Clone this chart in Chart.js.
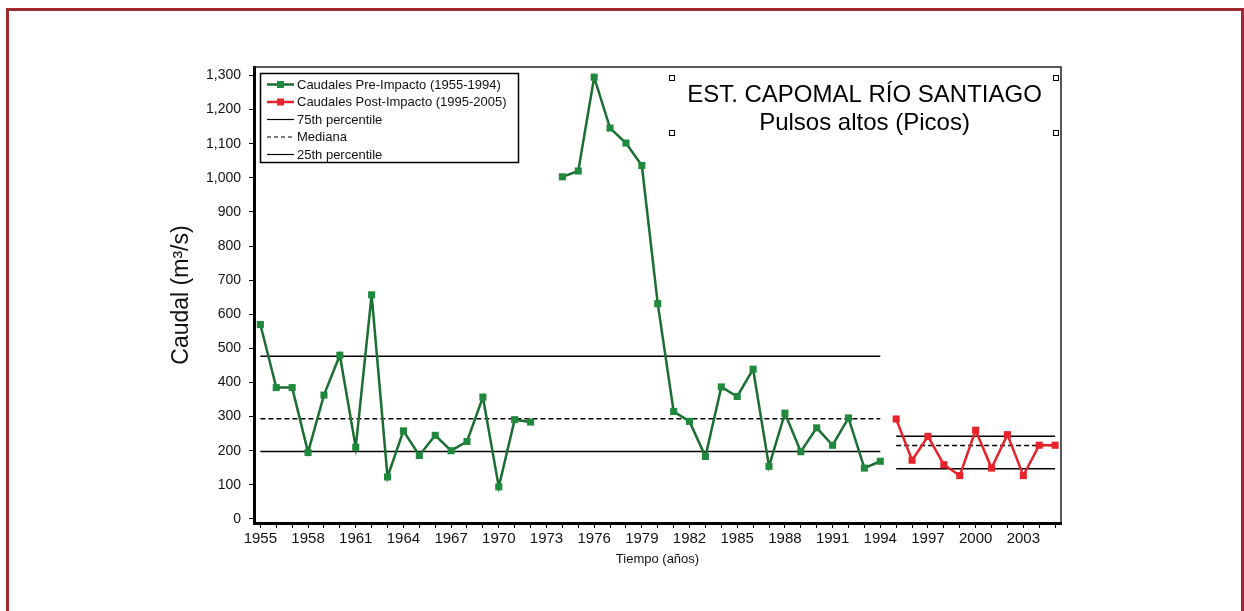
<!DOCTYPE html>
<html>
<head>
<meta charset="utf-8">
<script src="https://cdn.jsdelivr.net/npm/chart.js@4.4.1/dist/chart.umd.min.js"></script>
<style>
  html, body { margin: 0; padding: 0; background: #fff; }
  #wrap { width: 1244px; height: 611px; position: relative; }
</style>
</head>
<body>
<div id="wrap"><canvas id="c" width="1244" height="611"></canvas></div>
<script>
// Peak flows, Capomal station, Santiago river (m3/s)
const preYears = [1955, 1956, 1957, 1958, 1959, 1960, 1961, 1962, 1963, 1964,
                  1965, 1966, 1967, 1968, 1969, 1970, 1971, 1972, 1973, 1974,
                  1975, 1976, 1977, 1978, 1979, 1980, 1981, 1982, 1983, 1984,
                  1985, 1986, 1987, 1988, 1989, 1990, 1991, 1992, 1993, 1994];
const preCaudal = [570, 385, 385, 195, 363, 480, 210, 657, 123, 258,
                   186, 245, 200, 227, 357, 94, 291, 284, null, 1003,
                   1020, 1295, 1146, 1102, 1036, 631, 315, 286, 183, 387,
                   359, 439, 154, 310, 197, 267, 216, 296, 149, 169];

const postYears = [1995, 1996, 1997, 1998, 1999, 2000, 2001, 2002, 2003, 2004, 2005];
const postCaudal = [293, 172, 242, 159, 127, 260, 149, 247, 127, 216, 216];

// Percentiles: [25th, median, 75th]
const prePercentiles = [198, 294, 477];
const postPercentiles = [147, 215, 242];

const xLabelYears = [1955, 1958, 1961, 1964, 1967, 1970, 1973, 1976, 1979, 1982,
                     1985, 1988, 1991, 1994, 1997, 2000, 2003];
const yTickValues = [0, 100, 200, 300, 400, 500, 600, 700, 800, 900, 1000, 1100, 1200, 1300];

const FONT = '"Liberation Sans", Arial, Helvetica, sans-serif';
const GREEN_LINE = '#1b6e31';
const GREEN_PT = '#1f8a3d';
const RED_LINE = '#e6222b';
const RED_PT = '#e8232c';

const toPoints = (xs, ys) => xs.map((x, i) => ({ x: x, y: ys[i] }));
const hLine = (x0, x1, y) => [{ x: x0, y: y }, { x: x1, y: y }];

const percentileStyles = [
  { label: '25th percentile', dash: [] },
  { label: 'Mediana', dash: [5, 3] },
  { label: '75th percentile', dash: [] }
];

const datasets = [
  {
    label: 'Caudales Pre-Impacto (1955-1994)',
    data: toPoints(preYears, preCaudal),
    borderColor: GREEN_LINE, backgroundColor: GREEN_PT,
    borderWidth: 2.5, pointStyle: 'rect', pointRadius: 5,
    pointBorderColor: GREEN_PT, pointBackgroundColor: GREEN_PT, pointBorderWidth: 0,
    spanGaps: false, tension: 0
  },
  {
    label: 'Caudales Post-Impacto (1995-2005)',
    data: toPoints(postYears, postCaudal),
    borderColor: RED_LINE, backgroundColor: RED_PT,
    borderWidth: 2.5, pointStyle: 'rect', pointRadius: 5,
    pointBorderColor: RED_PT, pointBackgroundColor: RED_PT, pointBorderWidth: 0,
    tension: 0
  }
];
percentileStyles.forEach((s, i) => {
  datasets.push({
    label: s.label,
    data: hLine(preYears[0], preYears[preYears.length - 1], prePercentiles[i]),
    borderColor: '#000', borderWidth: 1.5, borderDash: s.dash, pointRadius: 0
  });
  datasets.push({
    label: s.label,
    data: hLine(postYears[0], postYears[postYears.length - 1], postPercentiles[i]),
    borderColor: '#000', borderWidth: 1.5, borderDash: s.dash, pointRadius: 0
  });
});

// Outer frame, plot box and boxed legend/title
const decorations = {
  id: 'decorations',
  beforeDraw(chart) {
    const ctx = chart.ctx;
    ctx.save();
    ctx.fillStyle = '#fff';
    ctx.fillRect(0, 0, chart.width, chart.height);
    ctx.strokeStyle = '#9c2a30';
    ctx.lineWidth = 3;
    ctx.strokeRect(7.5, 9.5, 1235, 700);
    ctx.restore();
  },
  afterDatasetsDraw(chart) {
    const ctx = chart.ctx;
    const a = chart.chartArea;
    ctx.save();
    // top and right edges of the plot box
    ctx.strokeStyle = '#222';
    ctx.lineWidth = 1.5;
    ctx.beginPath();
    ctx.moveTo(a.left, a.top);
    ctx.lineTo(a.right, a.top);
    ctx.lineTo(a.right, a.bottom);
    ctx.stroke();

    // title block
    ctx.fillStyle = '#000';
    ctx.font = '24px ' + FONT;
    ctx.textAlign = 'center';
    ctx.textBaseline = 'middle';
    ctx.fillText('EST. CAPOMAL RÍO SANTIAGO', 864.5, 95);
    ctx.fillText('Pulsos altos (Picos)', 864.5, 123.5);
    ctx.lineWidth = 1;
    ctx.strokeStyle = '#000';
    [[672, 78], [672, 133], [1056, 78], [1056, 133]].forEach(p => {
      ctx.fillStyle = '#fff';
      ctx.fillRect(p[0] - 3, p[1] - 3, 6, 6);
      ctx.strokeRect(p[0] - 2.5, p[1] - 2.5, 5, 5);
    });

    // legend box
    const lx = 260.5, ly = 73.5, lw = 258, lh = 89;
    ctx.fillStyle = '#fff';
    ctx.fillRect(lx, ly, lw, lh);
    ctx.lineWidth = 1.5;
    ctx.strokeStyle = '#000';
    ctx.strokeRect(lx, ly, lw, lh);
    const items = [
      { text: datasets[0].label, color: GREEN_LINE, pt: GREEN_PT, dash: [], w: 2.5 },
      { text: datasets[1].label, color: RED_LINE, pt: RED_PT, dash: [], w: 2.5 },
      { text: percentileStyles[2].label, color: '#000', pt: null, dash: [], w: 1.2 },
      { text: percentileStyles[1].label, color: '#000', pt: null, dash: [4, 3], w: 1.2 },
      { text: percentileStyles[0].label, color: '#000', pt: null, dash: [], w: 1.2 }
    ];
    ctx.font = '13px ' + FONT;
    ctx.textAlign = 'left';
    ctx.textBaseline = 'middle';
    items.forEach((it, i) => {
      const y = 84.5 + i * 17.5;
      ctx.strokeStyle = it.color;
      ctx.lineWidth = it.w;
      ctx.setLineDash(it.dash);
      ctx.beginPath();
      ctx.moveTo(267, y);
      ctx.lineTo(294, y);
      ctx.stroke();
      ctx.setLineDash([]);
      if (it.pt) {
        ctx.fillStyle = it.pt;
        ctx.fillRect(277, y - 3.5, 7, 7);
      }
      ctx.fillStyle = '#111';
      ctx.fillText(it.text, 297, y + 0.5);
    });
    ctx.restore();
  }
};

new Chart(document.getElementById('c'), {
  type: 'line',
  data: { datasets: datasets },
  plugins: [decorations],
  options: {
    responsive: false,
    devicePixelRatio: 1,
    animation: false,
    events: [],
    layout: { padding: { left: 0, right: 183, top: 67, bottom: 0 } },
    plugins: {
      legend: { display: false },
      tooltip: { enabled: false },
      title: { display: false }
    },
    scales: {
      x: {
        type: 'linear',
        min: 1954.6,
        max: 2005.37,
        afterFit(scale) { scale.height = 88; },
        afterBuildTicks(scale) {
          const t = [];
          for (let y = preYears[0]; y <= postYears[postYears.length - 1]; y++) t.push({ value: y });
          scale.ticks = t;
        },
        grid: { display: true, drawOnChartArea: false, drawTicks: true, tickLength: 5, color: '#000', lineWidth: 1 },
        border: { display: true, color: '#000', width: 3 },
        ticks: {
          autoSkip: false, maxRotation: 0, minRotation: 0, padding: 2,
          color: '#111',
          font: { family: FONT, size: 15 },
          callback: (v) => xLabelYears.includes(v) ? String(v) : ''
        },
        title: {
          display: true, text: 'Tiempo (años)', color: '#111',
          font: { family: FONT, size: 13 },
          padding: { top: 0, bottom: 44 }
        }
      },
      y: {
        type: 'linear',
        min: -12,
        max: 1325,
        afterFit(scale) { scale.width = 254; },
        afterBuildTicks(scale) { scale.ticks = yTickValues.map(v => ({ value: v })); },
        grid: { display: true, drawOnChartArea: false, drawTicks: true, tickLength: 5, color: '#000', lineWidth: 1 },
        border: { display: true, color: '#000', width: 3 },
        ticks: {
          padding: 8, color: '#111',
          font: { family: FONT, size: 14 },
          callback: (v) => v.toLocaleString('en-US')
        },
        title: {
          display: true, text: 'Caudal (m³/s)', color: '#111',
          font: { family: FONT, size: 23 },
          padding: { top: 168, bottom: 0 }
        }
      }
    }
  }
});
</script>
</body>
</html>
